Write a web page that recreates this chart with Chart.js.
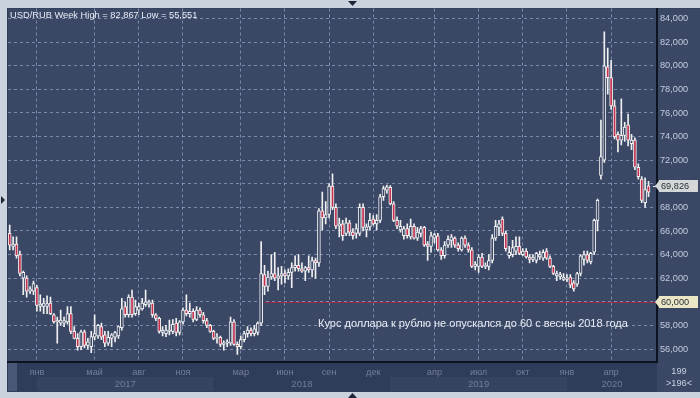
<!DOCTYPE html>
<html>
<head>
<meta charset="utf-8">
<script src="https://cdn.jsdelivr.net/npm/chart.js@4.4.1/dist/chart.umd.min.js"></script>
<style>
  html, body { margin: 0; padding: 0; background: #c9d2dd; }
</style>
</head>
<body>
<canvas id="chart" width="700" height="398"></canvas>
<script>
'use strict';
// USD/RUB weekly candles, first candle = week of 7 Nov 2016, last = week of 15 Jun 2020
const firstWeek = Date.UTC(2016, 10, 7);
const emptyWeeks = 2;

const open = [
  65.8, 64.7, 64.9, 64.0, 62.0, 62.0, 60.9, 60.9, 61.2, 59.6,
  59.6, 59.6, 59.9, 58.9, 58.3, 58.2, 58.2, 58.3, 59.0, 57.5,
  56.9, 56.2, 57.45, 56.3, 56.2, 57.0, 57.1, 57.9, 57.2, 56.5,
  56.9, 57.0, 57.1, 57.8, 59.6, 58.9, 60.4, 59.0, 59.3, 59.4,
  59.75, 59.8, 59.9, 58.9, 58.6, 57.4, 57.3, 57.5, 57.5, 58.2,
  57.4, 58.3, 59.3, 59.0, 59.2, 58.5, 59.3, 58.9, 58.4, 58.0,
  57.5, 56.9, 57.0, 56.4, 56.5, 56.5, 58.3, 56.4, 56.2, 56.8,
  57.3, 57.6, 57.3, 57.4, 58.2, 62.3, 61.3, 62.1, 62.4, 62.0,
  62.2, 62.4, 62.2, 62.5, 62.9, 63.1, 62.8, 62.6, 62.9, 62.7,
  63.5, 63.3, 67.7, 67.1, 67.4, 69.8, 68.0, 66.4, 66.6, 65.8,
  66.7, 65.9, 65.8, 65.8, 68.0, 66.1, 66.35, 67.0, 66.6, 66.9,
  68.9, 69.45, 69.7, 68.3, 66.9, 66.1, 65.6, 66.2, 65.5, 66.4,
  65.4, 65.8, 66.3, 64.9, 64.7, 65.4, 65.6, 64.4, 63.9, 64.8,
  65.2, 65.4, 64.8, 64.4, 65.4, 64.8, 64.4, 63.0, 63.0, 63.8,
  63.0, 63.0, 63.5, 65.4, 66.3, 67.0, 65.8, 63.9, 64.0, 64.3,
  64.7, 64.0, 64.3, 63.8, 63.6, 63.5, 63.8, 63.7, 64.3, 63.7,
  63.0, 62.2, 62.1, 61.9, 61.9, 62.1, 61.6, 61.5, 62.4, 63.6,
  64.0, 63.4, 64.2, 66.9, 70.7, 72.0, 79.9, 79.0, 76.6, 74.2,
  73.7, 74.1, 75.0, 73.4, 73.7, 71.4, 70.4, 68.4, 69.83
];
const high = [
  66.5, 65.5, 65.5, 64.3, 62.6, 62.2, 61.3, 61.75, 61.4, 60.6,
  60.3, 60.5, 60.4, 59.0, 58.7, 59.3, 58.7, 59.6, 59.6, 57.9,
  57.3, 57.6, 57.6, 56.9, 57.5, 58.9, 58.1, 58.2, 57.5, 57.5,
  57.3, 57.5, 57.95, 60.3, 60.0, 60.6, 61.0, 60.15, 59.9, 60.3,
  61.0, 60.15, 60.15, 59.0, 58.7, 57.9, 58.0, 58.45, 58.5, 58.6,
  58.4, 59.5, 60.6, 59.9, 59.4, 59.6, 59.5, 59.1, 58.6, 58.1,
  57.6, 57.3, 57.1, 56.7, 56.8, 58.7, 58.5, 56.6, 57.1, 57.5,
  57.9, 57.8, 58.0, 58.3, 65.1, 63.1, 62.6, 64.0, 64.2, 62.9,
  63.0, 62.7, 62.8, 63.3, 63.9, 64.0, 63.3, 63.0, 63.9, 63.8,
  63.7, 67.9, 69.3, 68.5, 70.0, 70.85, 68.3, 67.1, 66.9, 67.1,
  66.9, 66.2, 66.6, 68.3, 68.3, 66.6, 67.5, 67.3, 67.4, 69.1,
  69.8, 69.9, 69.85, 68.5, 67.2, 66.9, 66.4, 66.6, 67.0, 66.6,
  66.3, 66.4, 66.4, 65.1, 65.9, 65.8, 65.8, 64.6, 65.1, 65.6,
  65.7, 65.5, 65.0, 65.5, 65.6, 65.0, 64.6, 63.4, 64.0, 64.1,
  63.3, 64.0, 65.7, 66.9, 66.9, 67.2, 66.0, 64.7, 65.2, 65.5,
  65.5, 64.5, 64.5, 64.0, 64.0, 64.2, 64.3, 64.4, 64.5, 63.9,
  63.1, 62.6, 62.5, 62.4, 62.3, 62.3, 61.8, 62.5, 64.0, 64.3,
  64.3, 64.2, 67.0, 68.7, 75.4, 82.867, 81.5, 80.45, 77.1, 74.4,
  77.2, 75.2, 75.9, 74.2, 73.9, 71.7, 70.6, 70.5, 70.2
];
const low = [
  64.4, 64.4, 63.7, 62.2, 60.6, 60.4, 60.7, 60.6, 59.2, 59.2,
  59.0, 59.0, 58.9, 58.2, 56.5, 58.0, 57.9, 58.1, 57.3, 56.85,
  55.9, 55.95, 56.1, 56.0, 55.7, 56.8, 56.9, 56.8, 56.2, 56.3,
  56.2, 56.6, 56.9, 57.6, 58.7, 58.7, 58.7, 58.85, 58.9, 59.3,
  59.6, 59.55, 58.7, 58.4, 57.35, 57.1, 57.05, 57.2, 57.3, 57.1,
  57.2, 58.1, 58.8, 58.7, 58.3, 58.4, 58.7, 58.2, 57.8, 57.4,
  56.8, 56.5, 56.2, 55.9, 56.2, 56.3, 56.3, 55.551, 56.0, 56.6,
  57.0, 57.1, 57.1, 57.2, 58.0, 60.6, 60.9, 61.9, 61.8, 61.0,
  61.5, 61.6, 61.9, 61.2, 62.6, 62.6, 62.5, 61.8, 62.5, 62.1,
  62.0, 63.0, 66.1, 66.6, 67.1, 67.8, 66.2, 65.5, 65.2, 65.6,
  65.6, 65.3, 65.4, 65.6, 66.0, 65.5, 66.1, 66.5, 66.1, 66.7,
  68.6, 69.2, 68.2, 66.8, 66.2, 65.9, 65.3, 65.4, 65.3, 65.3,
  65.2, 65.5, 64.7, 63.5, 64.2, 65.0, 64.3, 63.6, 63.7, 64.6,
  64.6, 64.6, 64.3, 64.3, 64.6, 64.2, 62.9, 62.7, 62.5, 62.9,
  62.8, 62.7, 63.3, 65.2, 65.6, 65.6, 64.3, 63.7, 63.8, 64.0,
  64.0, 63.9, 63.7, 63.3, 63.4, 63.3, 63.6, 63.5, 63.6, 62.9,
  62.3, 61.8, 61.9, 61.8, 61.7, 61.2, 60.9, 61.3, 62.2, 63.1,
  63.3, 63.2, 64.0, 66.0, 70.4, 71.8, 77.6, 76.3, 73.8, 72.7,
  73.3, 73.6, 73.2, 72.9, 71.2, 70.4, 68.4, 68.0, 68.9
];
const close = [
  64.8, 64.9, 63.9, 62.4, 62.5, 60.9, 61.1, 61.55, 59.7, 59.8,
  59.9, 59.85, 59.0, 58.3, 58.4, 58.45, 58.4, 59.0, 57.5, 56.9,
  56.2, 57.45, 56.3, 56.6, 57.05, 57.3, 58.0, 57.0, 56.5, 57.0,
  57.2, 57.4, 57.9, 59.4, 58.9, 60.4, 58.9, 59.6, 59.6, 59.9,
  60.0, 60.0, 58.9, 58.6, 57.5, 57.6, 57.6, 57.6, 58.1, 57.4,
  58.3, 59.3, 59.0, 59.2, 58.5, 59.3, 58.9, 58.4, 58.0, 57.5,
  56.9, 57.0, 56.4, 56.5, 56.6, 58.3, 56.4, 56.2, 56.8, 57.3,
  57.6, 57.3, 57.7, 58.2, 62.4, 61.3, 62.1, 62.4, 62.0, 62.2,
  62.4, 62.2, 62.5, 62.9, 63.1, 62.8, 62.6, 62.9, 62.7, 63.5,
  63.3, 67.7, 67.1, 67.4, 69.8, 68.0, 66.4, 66.6, 65.6, 66.7,
  65.9, 65.6, 66.2, 68.0, 66.3, 66.35, 66.9, 66.6, 66.9, 68.9,
  69.6, 69.75, 68.3, 66.9, 66.4, 66.4, 66.2, 65.6, 66.4, 65.4,
  65.9, 66.2, 64.8, 64.7, 65.6, 65.7, 64.4, 63.9, 64.8, 65.3,
  65.5, 64.8, 64.5, 65.4, 64.8, 64.4, 63.0, 63.2, 63.8, 63.0,
  63.1, 63.5, 65.4, 66.4, 66.6, 65.8, 64.5, 64.2, 64.6, 64.7,
  64.1, 64.3, 63.8, 63.6, 63.8, 64.1, 64.0, 64.2, 63.7, 63.0,
  62.4, 62.4, 62.3, 62.1, 62.0, 61.4, 61.1, 62.4, 63.9, 64.0,
  63.5, 64.1, 66.9, 68.6, 72.3, 80.0, 79.0, 76.6, 74.0, 73.7,
  74.1, 74.8, 73.7, 73.7, 71.4, 70.6, 68.6, 69.5, 69.3
];

const monthTicks = ['2017-01', '2017-05', '2017-08', '2017-11', '2018-03', '2018-06',
  '2018-09', '2018-12', '2019-04', '2019-07', '2019-10', '2020-01', '2020-04'];
const monthNames = ['янв', 'май', 'авг', 'ноя', 'мар', 'июн', 'сен', 'дек', 'апр', 'июл', 'окт', 'янв', 'апр'];
const years = [2017, 2018, 2019, 2020];
const lastPrice = 69.826;
const levelValue = 60;
const levelFrom = '2018-04-16';
const titleText = 'USD/RUB Week High = 82,867 Low = 55,551';
const noteText = 'Курс доллара к рублю не опускался до 60 с весны 2018 года';

const WEEK = 7 * 86400000;
const FONT = '"Liberation Sans", Arial, sans-serif';
const PLOT_BG = '#3a4866';
const RED = '#c4304e';
const WHITE = '#f0f0f0';
const GRID = 'rgba(140,156,190,0.8)';

const weekLabels = [];
for (let i = 0; i < open.length + emptyWeeks; i++) {
  weekLabels.push(new Date(firstWeek + i * WEEK).toISOString().slice(0, 10));
}
// week that holds the 1st day of a month
function weekOf(y, m) {
  return Math.floor((Date.UTC(y, m - 1, 1) - firstWeek + 86400000) / WEEK);
}
const monthText = {};
monthTicks.forEach((m, k) => {
  const [y, mm] = m.split('-').map(Number);
  monthText[weekOf(y, mm)] = monthNames[k];
});

const bodies = open.map((o, i) => [o, close[i]]);
const wicks = low.map((l, i) => [l, high[i]]);

function fmt(v) { return v.toFixed(3).replace('.', ','); }

function priceBox(ctx, yScale, value, fill) {
  const y = Math.round(yScale.getPixelForValue(value));
  ctx.fillStyle = fill;
  ctx.fillRect(659, y - 6, 39, 12);
  ctx.beginPath();
  ctx.moveTo(655, y); ctx.lineTo(659, y - 5); ctx.lineTo(659, y + 5); ctx.closePath();
  ctx.fill();
  ctx.fillStyle = '#2a2f38';
  ctx.font = '9.2px ' + FONT;
  ctx.textAlign = 'left';
  ctx.textBaseline = 'middle';
  ctx.fillText(fmt(value), 661, y + 0.5);
}

const framePlugin = {
  id: 'frame',
  beforeDraw(chart) {
    const {ctx, chartArea: a, scales: {x}} = chart;
    ctx.save();
    ctx.fillStyle = '#c9d2dd';
    ctx.fillRect(0, 0, 700, 398);
    ctx.fillStyle = '#303d5a';
    ctx.fillRect(7, 8, 693, 384);
    ctx.fillStyle = PLOT_BG;
    ctx.fillRect(a.left, a.top, 700 - a.left, a.bottom - a.top);
    ctx.fillRect(a.right, a.bottom, 700 - a.right, 392 - a.bottom);
    ctx.fillStyle = '#4a5877';
    ctx.fillRect(8, a.bottom + 1, 9, 392 - a.bottom - 2);
    // alternate year bands under the year labels
    ctx.fillStyle = '#36445f';
    years.forEach((yr, k) => {
      if (k % 2) return;
      const x0 = x.getPixelForValue(weekOf(yr, 1));
      const x1 = k + 1 < years.length ? x.getPixelForValue(weekOf(yr + 1, 1)) : a.right;
      ctx.fillRect(x0, 377, x1 - x0, 14);
    });
    ctx.restore();
  },
  beforeDatasetsDraw(chart) {
    const {ctx, chartArea: a, scales: {x, y}} = chart;
    const yy = Math.round(y.getPixelForValue(levelValue)) + 0.5;
    ctx.save();
    ctx.strokeStyle = '#a02a45';
    ctx.lineWidth = 1;
    ctx.beginPath();
    ctx.moveTo(x.getPixelForValue(weekLabels.indexOf(levelFrom)), yy);
    ctx.lineTo(a.right, yy);
    ctx.stroke();
    ctx.restore();
  },
  afterDraw(chart) {
    const {ctx, chartArea: a, scales: {x, y}} = chart;
    ctx.save();
    ctx.fillStyle = '#e9edf5';
    ctx.font = '9.3px ' + FONT;
    ctx.textAlign = 'left';
    ctx.textBaseline = 'middle';
    ctx.fillText(titleText, 10, 15);

    ctx.font = '11px ' + FONT;
    ctx.fillText(noteText, 318, y.getPixelForValue(58) - 1);

    // last price tick
    const yl = Math.round(y.getPixelForValue(lastPrice)) + 0.5;
    ctx.strokeStyle = WHITE;
    ctx.beginPath(); ctx.moveTo(653, yl); ctx.lineTo(656, yl); ctx.stroke();
    priceBox(ctx, y, lastPrice, '#d3d7d8');
    priceBox(ctx, y, levelValue, '#ebe7c6');

    // year captions
    ctx.fillStyle = '#6f7d9b';
    ctx.font = '9.5px ' + FONT;
    ctx.textAlign = 'center';
    years.forEach((yr, k) => {
      const x0 = x.getPixelForValue(weekOf(yr, 1));
      const x1 = k + 1 < years.length ? x.getPixelForValue(weekOf(yr + 1, 1)) : a.right;
      ctx.fillText(String(yr), (x0 + x1) / 2, 384);
    });

    ctx.fillStyle = '#c9d1e1';
    ctx.font = '9.2px ' + FONT;
    ctx.fillText('199', 679, 371);
    ctx.fillText('>196<', 679, 383);

    // small scroll arrows
    ctx.fillStyle = '#1c2538';
    ctx.beginPath(); ctx.moveTo(348, 1); ctx.lineTo(357, 1); ctx.lineTo(352.5, 6); ctx.fill();
    ctx.beginPath(); ctx.moveTo(348, 398); ctx.lineTo(357, 398); ctx.lineTo(352.5, 393); ctx.fill();
    ctx.beginPath(); ctx.moveTo(1, 196); ctx.lineTo(1, 204); ctx.lineTo(5, 200); ctx.fill();
    ctx.restore();
  }
};

const canvasElem = document.getElementById('chart');
new Chart(canvasElem, {
  type: 'bar',
  data: {
    labels: weekLabels,
    datasets: [{
      data: wicks,
      backgroundColor: WHITE,
      borderWidth: 0,
      barThickness: 1,
      grouped: false,
      order: 2
    }, {
      data: bodies,
      backgroundColor: c => close[c.dataIndex] < open[c.dataIndex] ? RED : PLOT_BG,
      borderColor: WHITE,
      borderWidth: 1,
      borderSkipped: false,
      barThickness: 3,
      grouped: false,
      order: 1
    }]
  },
  options: {
    responsive: false,
    animation: false,
    layout: { padding: { left: 8, top: 8, right: 0, bottom: 6 } },
    plugins: { legend: { display: false }, tooltip: { enabled: false } },
    scales: {
      x: {
        offset: true,
        grid: {
          offset: false,
          drawTicks: false,
          color: c => monthText[c.index] ? GRID : 'rgba(0,0,0,0)'
        },
        border: { color: '#0e1320', width: 2, dash: [3, 3] },
        ticks: {
          autoSkip: false,
          maxRotation: 0,
          padding: 5,
          color: '#717f9d',
          font: { family: FONT, size: 9.2 },
          callback: (v, i) => monthText[i] || ''
        },
        afterFit: s => { s.height = 30; }
      },
      y: {
        position: 'right',
        min: 54.9,
        max: 84.85,
        grid: { drawTicks: false, color: GRID },
        border: { color: '#0e1320', width: 2, dash: [3, 3] },
        ticks: {
          stepSize: 2,
          includeBounds: false,
          padding: 3,
          color: '#c3cbdc',
          font: { family: FONT, size: 9.2 },
          callback: v => fmt(v)
        },
        afterFit: s => { s.width = 43; }
      }
    }
  },
  plugins: [framePlugin]
});
</script>
</body>
</html>
